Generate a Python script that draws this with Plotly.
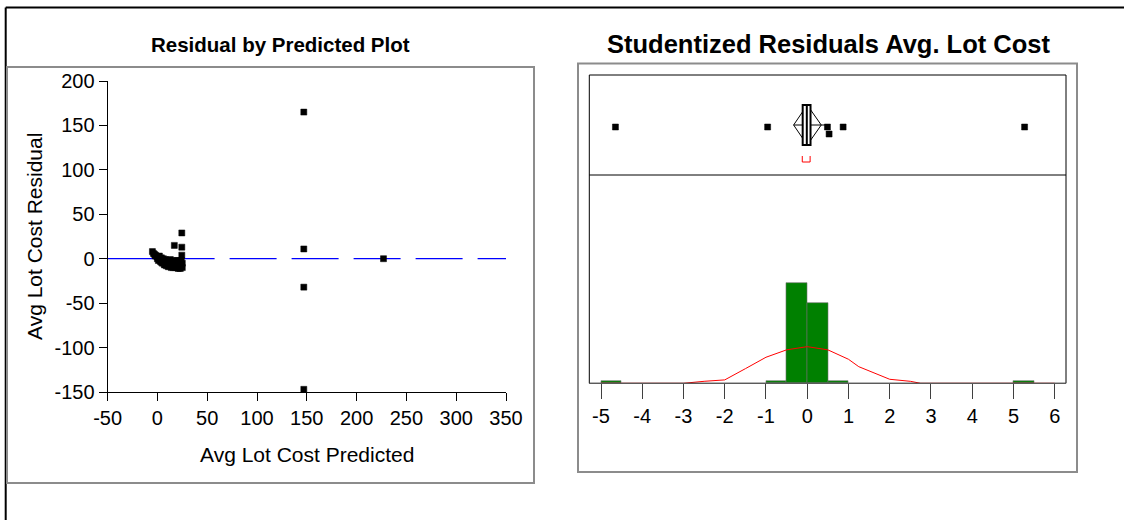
import plotly.graph_objects as go

W, H = 1124, 520

# ---------------- data ----------------
# Residual by predicted (left)
pred_x = [-5, -4, -3, -2, -1, 0, 1, 2, 3, 4, 5, 6, 7, 8, 10, 12, 14, 16, 18, 20,
          22, 23, 25, 22, 20, 18, 15, 12, 10, 8, 6, 4, 13, 17, 21, 24, 9, 11, 19, 2,
          -2, 0, 3, 5, 7, 9, 11, 14, 16, 19, 21, 23, 1, 4, 6, 13, 15, 18, 25, 24,
          24.5, 17, 24.5, 24.5,
          147, 147, 147, 147, 227]
resid_y = [8, 6, 5, 4, 3, 2, 1, 0, -1, -2, -3, -4, -5, -6, -7, -8, -8, -9, -10, -10,
           -9, -7, -5, -3, -2, -4, -5, -4, -2, -1, 0, 1, -1, -6, -6, -8, -4, -6, -7, 3,
           3, 0, -3, -5, -7, -8, -9, -10, -10, -9, -11, -11, -2, -4, -2, -6, -3, -2, -10, -2,
           29, 15, 13, 4,
           165, 11, -32, -147, 0]

x_ticks = [-50, 0, 50, 100, 150, 200, 250, 300, 350]
y_ticks = [-150, -100, -50, 0, 50, 100, 150, 200]

# Studentized residual distribution (right)
outlier_x = [-4.65, -0.96, 0.49, 0.53, 0.87, 5.27]
outlier_y = [0.48, 0.48, 0.48, 0.41, 0.48, 0.48]
box_q1, box_median, box_q3 = -0.11, -0.01, 0.08
whisker_lo, whisker_hi = -0.33, 0.45
diamond_lo, diamond_mean, diamond_hi = -0.33, 0.0, 0.34
shortest_half = [-0.12, 0.07]

hist_centers = [-4.75, -0.75, -0.25, 0.25, 0.75, 5.25]
hist_counts = [1, 1, 50, 40, 1, 1]
hist_ticks = [-5, -4, -3, -2, -1, 0, 1, 2, 3, 4, 5, 6]

curve_x = [-5.0, -3.0, -2.5, -2.0, -1.5, -1.0, -0.5, 0.0, 0.5, 1.0, 1.25, 1.5, 2.0, 2.5, 2.75, 6.0]
curve_y = [0.0, 0.0, 1.0, 1.7, 7.3, 13.0, 16.7, 18.3, 16.7, 12.0, 8.3, 6.3, 2.0, 1.0, 0.0, 0.0]

FONT = "Arial, Liberation Sans, sans-serif"


def px(x):
    return x / W


def py(y):
    return 1 - y / H


def lab(v):
    return str(v)  # plain hyphen-minus like the original


fig = go.Figure()

fig.add_trace(go.Scatter(
    x=[-50, 350], y=[0, 0], mode="lines", xaxis="x", yaxis="y",
    line=dict(color="#0000FF", width=1.2,
              dash="107px,15px,47px,15px,47px,15px,47px,15px,47px,15px,47px,15px"),
    hoverinfo="skip", showlegend=False))
fig.add_trace(go.Scatter(
    x=pred_x, y=resid_y, mode="markers", xaxis="x", yaxis="y",
    marker=dict(symbol="square", size=6, color="black", line=dict(width=0.5, color="black")),
    showlegend=False))

fig.add_trace(go.Scatter(
    x=outlier_x, y=outlier_y, mode="markers", xaxis="x2", yaxis="y2",
    marker=dict(symbol="square", size=6, color="black", line=dict(width=0.5, color="black")),
    showlegend=False))

fig.add_trace(go.Bar(
    x=hist_centers, y=hist_counts, width=0.5, xaxis="x3", yaxis="y3",
    marker=dict(color="#008000", line=dict(color="#707070", width=0.6)),
    showlegend=False))
fig.add_trace(go.Scatter(
    x=curve_x, y=curve_y, mode="lines", xaxis="x3", yaxis="y3",
    line=dict(color="#FF0000", width=1), showlegend=False))

tickfont = dict(family=FONT, size=20, color="black")

hx0, hx1 = 589.3, 1066.0
tick_m5, tick_6 = 601.0, 1054.7
ppu = (tick_6 - tick_m5) / 11.0
zero_px = tick_m5 + 5 * ppu
xr = [(hx0 - zero_px) / ppu, (hx1 - zero_px) / ppu]

fig.update_layout(
    template="none",
    width=W, height=H,
    margin=dict(l=0, r=0, t=0, b=0, autoexpand=False),
    paper_bgcolor="white", plot_bgcolor="rgba(0,0,0,0)",
    font=dict(family=FONT, color="black"),
    showlegend=False,
    bargap=0,
    xaxis=dict(domain=[px(107.6), px(506.0)], range=[-50, 350], automargin=False,
               tickvals=x_ticks, ticktext=[lab(v) for v in x_ticks],
               ticks="outside", ticklen=8, tickcolor="black", tickwidth=1,
               showline=True, linecolor="black", linewidth=1,
               showgrid=False, zeroline=False, tickfont=tickfont,
               anchor="y", fixedrange=True),
    yaxis=dict(domain=[py(392.0), py(81.0)], range=[-150, 200], automargin=False,
               tickvals=y_ticks, ticktext=[lab(v) for v in y_ticks],
               ticks="outside", ticklen=8, tickcolor="black", tickwidth=1,
               showline=True, linecolor="black", linewidth=1,
               showgrid=False, zeroline=False, tickfont=tickfont,
               anchor="x", fixedrange=True),
    xaxis2=dict(domain=[px(hx0), px(hx1)], range=xr, visible=False, anchor="y2",
                automargin=False, fixedrange=True),
    yaxis2=dict(domain=[py(175), py(75)], range=[0, 1], visible=False, anchor="x2",
                automargin=False, fixedrange=True),
    xaxis3=dict(domain=[px(hx0), px(hx1)], range=xr, automargin=False,
                tickvals=hist_ticks, ticktext=[lab(v) for v in hist_ticks],
                ticks="outside", ticklen=15, tickcolor="#404040", tickwidth=1,
                showline=False, showgrid=False, zeroline=False, tickfont=tickfont,
                anchor="y3", fixedrange=True),
    yaxis3=dict(domain=[py(383.3), py(175)], range=[0, 104], visible=False, anchor="x3",
                automargin=False, fixedrange=True),
)

shapes = []
shapes.append(dict(type="line", xref="paper", yref="paper", x0=px(5.7), x1=1.0, y0=py(7.5), y1=py(7.5),
                   line=dict(color="black", width=2)))
shapes.append(dict(type="line", xref="paper", yref="paper", x0=px(5.7), x1=px(5.7), y0=py(7.5), y1=0,
                   line=dict(color="black", width=2)))
shapes.append(dict(type="rect", xref="paper", yref="paper", x0=px(7), x1=px(534), y0=py(483), y1=py(67),
                   line=dict(color="#8c8c8c", width=2)))
shapes.append(dict(type="rect", xref="paper", yref="paper", x0=px(578), x1=px(1077), y0=py(472), y1=py(63.5),
                   line=dict(color="#8c8c8c", width=2)))
shapes.append(dict(type="rect", xref="paper", yref="paper", x0=px(hx0), x1=px(hx1), y0=py(383.3), y1=py(75),
                   line=dict(color="black", width=1)))
shapes.append(dict(type="line", xref="paper", yref="paper", x0=px(hx0), x1=px(hx1), y0=py(175), y1=py(175),
                   line=dict(color="black", width=1)))
shapes.append(dict(type="line", xref="paper", yref="paper", x0=px(hx0), x1=px(hx1), y0=py(383.3), y1=py(383.3),
                   line=dict(color="#666666", width=1)))

shapes.append(dict(type="line", xref="x2", yref="y2", x0=whisker_lo, x1=whisker_hi, y0=0.5, y1=0.5,
                   line=dict(color="black", width=1)))
shapes.append(dict(type="path", xref="x2", yref="y2",
                   path=f"M {diamond_lo} 0.5 L {diamond_mean} 0.7 L {diamond_hi} 0.5 L {diamond_mean} 0.3 Z",
                   line=dict(color="black", width=1)))
shapes.append(dict(type="rect", xref="x2", yref="y2", x0=box_q1, x1=box_q3, y0=0.3, y1=0.7,
                   line=dict(color="black", width=2), fillcolor="white"))
shapes.append(dict(type="line", xref="x2", yref="y2", x0=box_median, x1=box_median, y0=0.3, y1=0.7,
                   line=dict(color="black", width=2)))
shapes.append(dict(type="path", xref="x2", yref="y2",
                   path=f"M {shortest_half[0]} 0.19 L {shortest_half[0]} 0.13 L {shortest_half[1]} 0.13 L {shortest_half[1]} 0.19",
                   line=dict(color="#FF0000", width=1)))

fig.update_layout(shapes=shapes)

fig.update_layout(annotations=[
    dict(text="<b>Residual by Predicted Plot</b>", x=px(280), y=py(44), xref="paper", yref="paper",
         showarrow=False, xanchor="center", yanchor="middle", font=dict(family=FONT, size=20.5, color="black")),
    dict(text="<b>Studentized Residuals Avg. Lot Cost</b>", x=px(828), y=py(44), xref="paper", yref="paper",
         showarrow=False, xanchor="center", yanchor="middle", font=dict(family=FONT, size=25.5, color="black")),
    dict(text="Avg Lot Cost Predicted", x=px(307), y=py(454), xref="paper", yref="paper",
         showarrow=False, xanchor="center", yanchor="middle", font=dict(family=FONT, size=21, color="black")),
    dict(text="Avg Lot Cost Residual", x=px(35), y=py(237), xref="paper", yref="paper", textangle=-90,
         showarrow=False, xanchor="center", yanchor="middle", font=dict(family=FONT, size=21, color="black")),
])

fig.write_html("out.html")
